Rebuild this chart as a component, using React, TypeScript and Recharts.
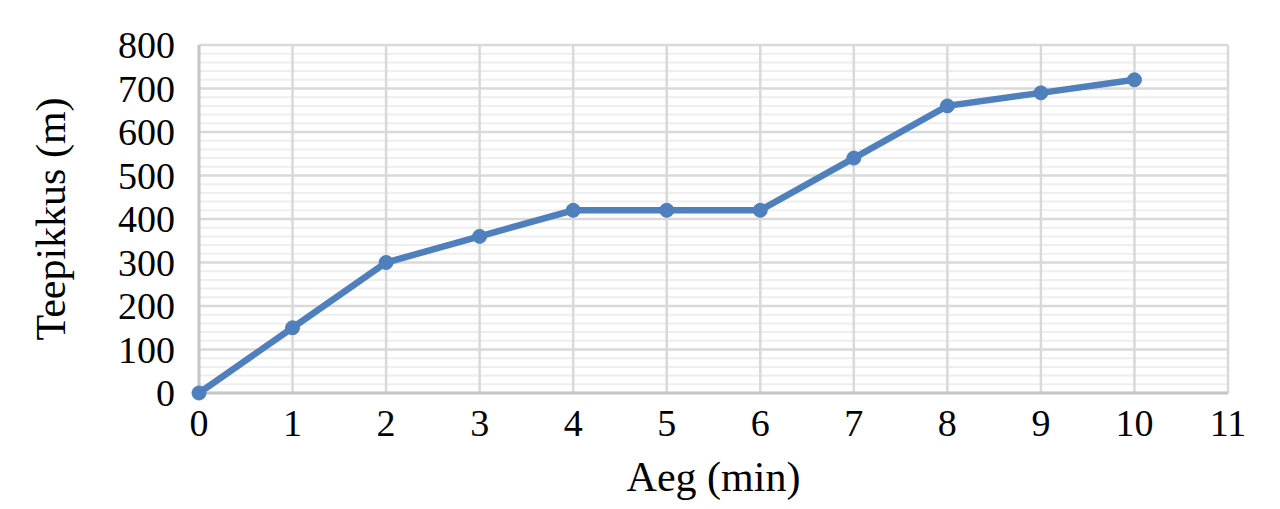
import { LineChart, Line, XAxis, YAxis, ReferenceLine } from 'recharts';

const minutes = [0, 1, 2, 3, 4, 5, 6, 7, 8, 9, 10];
const lengths = [0, 150, 300, 360, 420, 420, 420, 540, 660, 690, 720];
const xTicks = [0, 1, 2, 3, 4, 5, 6, 7, 8, 9, 10, 11];
const yTicks = [0, 100, 200, 300, 400, 500, 600, 700, 800];
// minor gridlines between the major ones
const yMinorTicks = [
    20, 40, 60, 80, 120, 140, 160, 180, 220, 240, 260, 280,
    320, 340, 360, 380, 420, 440, 460, 480, 520, 540, 560, 580,
    620, 640, 660, 680, 720, 740, 760, 780,
];

const data = minutes.map((m, i) => ({ aeg: m, teepikkus: lengths[i] }));

const FONT = '"Liberation Serif", "DejaVu Serif", serif';
const tickStyle = { fontFamily: FONT, fontSize: 38, fill: '#000' };
const labelStyle = { fontFamily: FONT, fontSize: 42, fill: '#000', textAnchor: 'middle' as const };
const MAJOR = '#d9d9d9';

export default function App() {
    return (
        <div style={{ position: 'absolute', left: 0, top: 0, background: '#fff' }}>
            <LineChart
                width={1280}
                height={509}
                data={data}
                margin={{ top: 45, right: 52, bottom: 0, left: 0 }}
            >
                {yMinorTicks.map((t) => (
                    <ReferenceLine key={`minor-${t}`} y={t} stroke="#eeeeee" strokeWidth={2} />
                ))}
                {yTicks.map((t) => (
                    <ReferenceLine key={`y-${t}`} y={t} stroke={MAJOR} strokeWidth={2.5} />
                ))}
                {xTicks.map((t) => (
                    <ReferenceLine key={`x-${t}`} x={t} stroke={MAJOR} strokeWidth={2.5} />
                ))}
                <XAxis
                    dataKey="aeg"
                    type="number"
                    domain={[0, 11]}
                    ticks={xTicks}
                    interval={0}
                    height={116}
                    tickLine={false}
                    axisLine={{ stroke: '#c6c6c6', strokeWidth: 3 }}
                    tick={tickStyle}
                    tickMargin={10}
                    label={{
                        value: 'Aeg (min)',
                        position: 'insideBottom',
                        offset: 18,
                        style: labelStyle,
                    }}
                />
                <YAxis
                    domain={[0, 800]}
                    ticks={yTicks}
                    interval={0}
                    width={199}
                    tickLine={false}
                    axisLine={{ stroke: '#c6c6c6', strokeWidth: 3 }}
                    tick={tickStyle}
                    tickMargin={18}
                    label={{
                        value: 'Teepikkus (m)',
                        angle: -90,
                        position: 'insideLeft',
                        offset: 50,
                        style: labelStyle,
                    }}
                />
                <Line
                    dataKey="teepikkus"
                    stroke="#4f7fbd"
                    strokeWidth={6.5}
                    dot={{ r: 7, fill: '#4f7fbd', stroke: '#4f7fbd', strokeWidth: 1 }}
                    activeDot={false}
                    isAnimationActive={false}
                />
            </LineChart>
        </div>
    );
}
